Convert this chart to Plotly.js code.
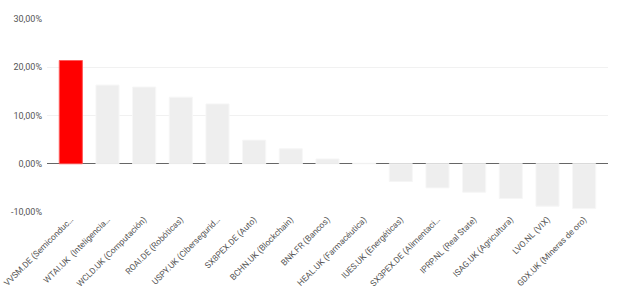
<!DOCTYPE html>
<html>
<head>
<meta charset="utf-8">
<script src="https://cdn.plot.ly/plotly-3.0.1.min.js"></script>
<style>html,body{margin:0;padding:0;background:#fff;}#chart{width:624px;height:299px;}</style>
</head>
<body>
<div id="chart"></div>
<script>
var categories = [
  "VVSM.DE (Semiconduc…",
  "WTAI.UK  (Inteligencia…",
  "WCLD.UK (Computación)",
  "ROAI.DE (Robóticas)",
  "USPY.UK (Cibersegurid…",
  "SX8PEX.DE (Auto)",
  "BCHN.UK (Blockchain)",
  "BNK.FR (Bancos)",
  "HEAL.UK (Farmacéutica)",
  "IUES.UK (Energéticas)",
  "SX3PEX.DE (Alimentaci…",
  "IPRP.NL (Real State)",
  "ISAG.UK (Agricultura)",
  "LVO.NL (VIX)",
  "GDX.UK (Mineras de oro)"
];
var values = [21.4, 16.3, 15.9, 13.8, 12.4, 4.9, 3.1, 1.0, 0.1, -3.7, -5.0, -5.9, -7.2, -8.8, -9.3];
var yTicks = [-10, 0, 10, 20, 30];

var colors = values.map(function(v, i){ return i === 0 ? '#ff0000' : '#eeeeee'; });
var lineColors = values.map(function(v, i){ return i === 0 ? '#ff5a5a' : '#f6f6f6'; });

var trace = {
  type: 'bar',
  x: categories.map(function(c, i){ return i; }),
  y: values,
  width: 0.63,
  marker: {color: colors, line: {color: lineColors, width: 1}},
  hoverinfo: 'none'
};

var layout = {
  width: 624, height: 299,
  margin: {l: 47, r: 16, t: 19, b: 87},
  paper_bgcolor: '#ffffff', plot_bgcolor: '#ffffff',
  separators: ',.',
  showlegend: false,
  font: {family: 'Roboto, Arial, sans-serif', size: 9, color: '#555555'},
  xaxis: {
    range: [-0.65, 14.65],
    tickmode: 'array',
    tickvals: categories.map(function(c, i){ return i; }),
    ticktext: categories,
    tickangle: -45,
    showgrid: false, zeroline: false, showline: false,
    ticks: '',
    tickfont: {size: 8.5, color: '#555555'},
    fixedrange: true
  },
  yaxis: {
    range: [-10, 30],
    tickmode: 'array',
    tickvals: yTicks,
    ticktext: yTicks.map(function(t){ return t.toFixed(2).replace('.', ',') + '%'; }),
    showgrid: true, gridcolor: '#f1f1f1', gridwidth: 1,
    zeroline: true, zerolinecolor: '#666666', zerolinewidth: 1,
    showline: false, ticks: '',
    ticklabelstandoff: 4,
    tickfont: {size: 9, color: '#555555'},
    fixedrange: true
  }
};

Plotly.newPlot('chart', [trace], layout, {staticPlot: true, displayModeBar: false});
</script>
</body>
</html>
